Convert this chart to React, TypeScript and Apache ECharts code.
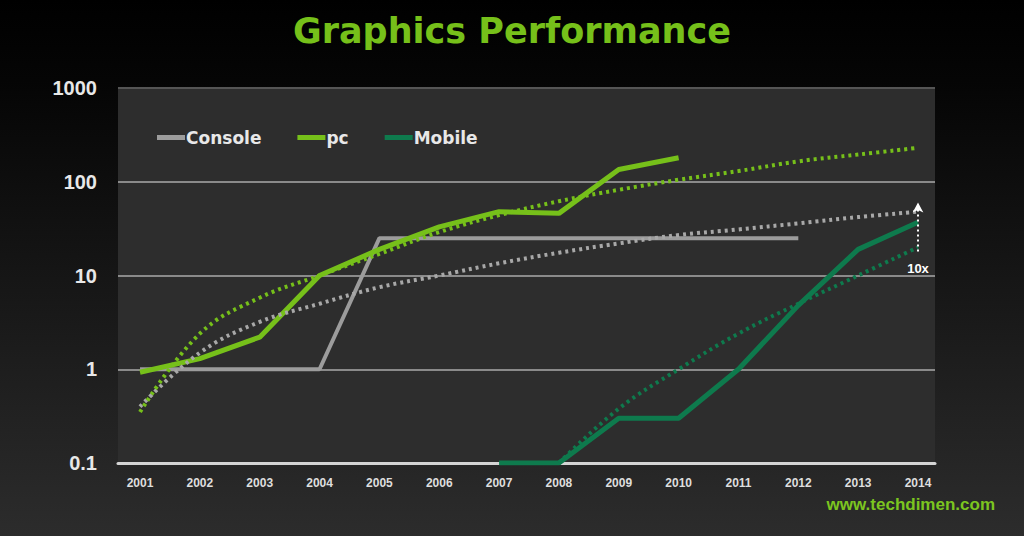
import React, { useEffect, useRef } from "react";
import * as echarts from "echarts";

const years = [2001, 2002, 2003, 2004, 2005, 2006, 2007, 2008, 2009, 2010, 2011, 2012, 2013, 2014];
const consoleValues = [1, 1, 1, 1, 25, 25, 25, 25, 25, 25, 25, 25, null, null];
const pcValues = [0.93, 1.3, 2.2, 10, 19, 33, 48, 46, 135, 180, null, null, null, null];
const mobileValues = [null, null, null, null, null, null, 0.1, 0.1, 0.3, 0.3, 1, 4.8, 19, 37];
const consoleTrend = [0.4, 1.5, 3.2, 5, 7.5, 10, 13.5, 17.5, 22, 27, 31, 36, 42, 48];
const pcTrend = [0.35, 2.4, 5.8, 10, 17, 29, 44, 62, 82, 105, 130, 165, 195, 230];
const mobileTrend = [null, null, null, null, null, null, null, 0.1, 0.38, 1.0, 2.4, 5, 10, 20];
const gapArrow = [18, 60];
const gapLabel = "10x";
const legendNames = ["Console", "pc", "Mobile"];

const GREY = "#9c9c9c";
const GREEN = "#76c01a";
const DARK = "#0e7a4d";

function pts(vals: (number | null)[]) {
  return years.map((y, i) => [y, vals[i]]).filter((p) => p[1] != null);
}

export default function App() {
  const ref = useRef<HTMLDivElement>(null);
  useEffect(() => {
    if (!ref.current) return;
    const chart = echarts.init(ref.current, null, { renderer: "svg" });
    const dotted = (name: string, vals: (number | null)[], color: string, extra: any = {}) => ({
      name,
      type: "line",
      data: pts(vals),
      smooth: 0.4,
      symbol: "none",
      lineStyle: { color, width: 4, type: [3, 4] },
      z: 3,
      ...extra,
    });
    const solid = (name: string, vals: (number | null)[], color: string, width: number) => ({
      name,
      type: "line",
      data: pts(vals),
      symbol: "none",
      itemStyle: { color },
      lineStyle: { color, width },
      z: 2,
    });
    chart.setOption({
      animation: false,
      backgroundColor: new echarts.graphic.LinearGradient(0, 0, 0, 1, [
        { offset: 0, color: "#000000" },
        { offset: 0.15, color: "#050505" },
        { offset: 1, color: "#2c2c2c" },
      ]),
      title: {
        text: "Graphics Performance",
        left: "center",
        top: 8,
        textStyle: { color: GREEN, fontSize: 35, fontFamily: "DejaVu Sans", fontWeight: "bold" },
      },
      legend: {
        data: legendNames.map((n, i) => ({ name: n, icon: "rect", itemStyle: { color: [GREY, GREEN, DARK][i] } })),
        left: 152,
        top: 124,
        itemWidth: 28,
        itemHeight: 5,
        itemGap: 36,
        textStyle: { color: "#e8e8e8", fontSize: 17, fontWeight: "bold", fontFamily: "DejaVu Sans", padding: [0, 0, 0, -4] },
      },
      grid: {
        left: 118,
        right: 89,
        top: 88,
        bottom: 73,
        show: true,
        backgroundColor: "#2d2d2d",
        borderWidth: 0,
      },
      xAxis: {
        type: "value",
        min: 2000.632,
        max: 2014.284,
        splitLine: { show: false },
        axisTick: { show: false },
        axisLine: { show: true, onZero: false, lineStyle: { color: "#d4d4d4", width: 3 } },
        axisLabel: {
          customValues: years,
          formatter: (v: number) => String(v),
          color: "#dedede",
          fontSize: 12,
          fontWeight: "bold",
          fontFamily: "Liberation Sans",
          margin: 14,
        },
      },
      yAxis: {
        type: "log",
        logBase: 10,
        min: 0.1,
        max: 1000,
        axisLine: { show: false },
        axisTick: { show: false },
        axisLabel: {
          formatter: (v: number) => String(v),
          color: "#e8e8e8",
          fontSize: 20,
          fontWeight: "bold",
          fontFamily: "Liberation Sans",
          margin: 21,
        },
        splitLine: {
          show: true,
          lineStyle: { color: ["#8a8a8a", "#8a8a8a", "#8a8a8a", "#8a8a8a", "#555555"], width: 2 },
        },
      },
      series: [
        solid("Console", consoleValues, GREY, 4),
        dotted("Console trend", consoleTrend, "#a8a8a8"),
        solid("pc", pcValues, GREEN, 5),
        dotted("pc trend", pcTrend, GREEN),
        solid("Mobile", mobileValues, DARK, 5),
        dotted("Mobile trend", mobileTrend, DARK, {
          markLine: {
            silent: true,
            symbol: ["none", "arrow"],
            symbolSize: [8, 10],
            lineStyle: { color: "#ffffff", width: 2, type: [2, 3] },
            label: {
              show: true,
              position: "start",
              formatter: gapLabel,
              color: "#ffffff",
              fontSize: 13,
              fontWeight: "bold",
              fontFamily: "Liberation Sans",
              distance: 10,
            },
            data: [[{ coord: [2014, gapArrow[0]] }, { coord: [2014, gapArrow[1]] }]],
          },
        }),
      ],
      graphic: [
        {
          type: "text",
          right: 29,
          top: 496,
          style: {
            text: "www.techdimen.com",
            fill: "#7cc520",
            font: "bold 17px 'Liberation Sans'",
          },
        },
      ],
    });
    return () => chart.dispose();
  }, []);
  return <div ref={ref} style={{ position: "fixed", left: 0, top: 0, width: 1024, height: 536 }} />;
}
